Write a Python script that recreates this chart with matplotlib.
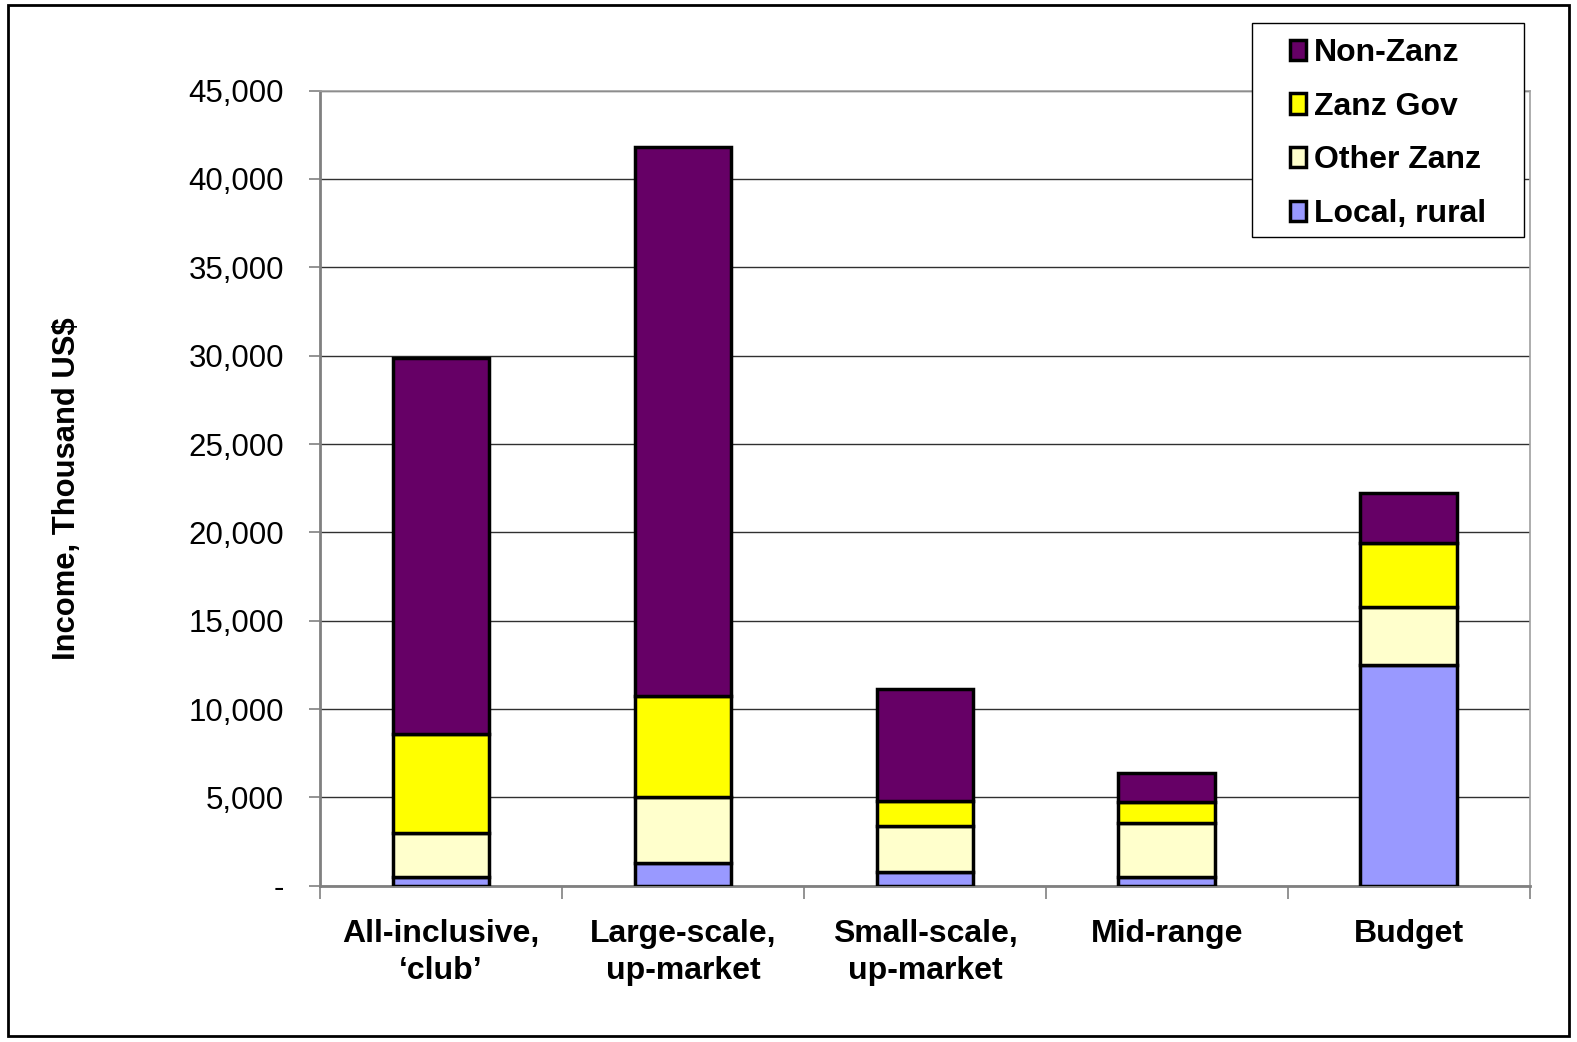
import numpy as np
import matplotlib.pyplot as plt
from matplotlib.patches import Rectangle
from matplotlib.ticker import FuncFormatter

plt.rcParams['font.family'] = ['Liberation Sans', 'DejaVu Sans']

categories = ['All-inclusive,\n\u2018club\u2019', 'Large-scale,\nup-market',
              'Small-scale,\nup-market', 'Mid-range', 'Budget']
local_rural = [480, 1270, 760, 480, 12500]
other_zanz = [2520, 3760, 2640, 3070, 3260]
zanz_gov = [5560, 5720, 1380, 1170, 3630]
non_zanz = [21290, 31050, 6380, 1640, 2830]

series = [('Local, rural', local_rural, '#9999ff'),
          ('Other Zanz', other_zanz, '#ffffcc'),
          ('Zanz Gov', zanz_gov, '#ffff00'),
          ('Non-Zanz', non_zanz, '#660066')]

fig = plt.figure(figsize=(15.77, 10.42), dpi=100)
ax = fig.add_axes([0.203, 0.150, 0.767, 0.763])

# outer chart border
fig.patches.append(Rectangle((0.005, 0.006), 0.99, 0.989, transform=fig.transFigure,
                             fill=False, edgecolor='black', linewidth=2))

x = np.arange(len(categories))
bottom = np.zeros(len(categories))
handles = []
for label, vals, color in series:
    h = ax.bar(x, vals, width=0.4, bottom=bottom, color=color,
               edgecolor='black', linewidth=2.5, label=label, zorder=3)
    handles.append(h)
    bottom += np.array(vals)

ax.set_xlim(-0.5, len(categories) - 0.5)
ax.set_ylim(0, 45000)
ax.set_yticks(np.arange(0, 45001, 5000))
ax.yaxis.set_major_formatter(FuncFormatter(lambda v, p: '-' if v == 0 else f'{int(v):,}'))
ax.grid(axis='y', color='#303030', linewidth=1, zorder=0)

ax.set_xticks(x)
ax.set_xticklabels(categories, fontsize=23, fontweight='bold', linespacing=1.3)
ax.set_xticks(np.arange(-0.5, len(categories)), minor=True)
ax.tick_params(axis='x', which='major', length=0, pad=24)
ax.tick_params(axis='x', which='minor', length=9, width=1.2, color='#808080')
ax.tick_params(axis='y', length=8, width=1.2, color='#808080', labelsize=22.5, pad=18)

for side in ['left', 'bottom']:
    ax.spines[side].set_color('#808080')
    ax.spines[side].set_linewidth(2)
for side in ['top', 'right']:
    ax.spines[side].set_color('#a0a0a0')
    ax.spines[side].set_linewidth(1.2)

ax.set_ylabel('Income, Thousand US$', fontsize=22.3, fontweight='bold')
ax.yaxis.set_label_coords(-0.197, 0.5)

# legend box drawn separately so it can be wider than its entries
fig.patches.append(Rectangle((1252 / 1577, 1 - 237 / 1042), 272 / 1577, 214 / 1042,
                             transform=fig.transFigure, facecolor='white',
                             edgecolor='black', linewidth=1, zorder=4))
leg = fig.legend(handles[::-1], [s[0] for s in series][::-1],
                 loc='upper left', bbox_to_anchor=(1290 / 1577, 1 - 38 / 1042),
                 prop={'size': 23, 'weight': 'bold'}, frameon=False,
                 handlelength=0.5, handleheight=0.6,
                 handletextpad=0.25, labelspacing=0.74, borderpad=0,
                 borderaxespad=0)
leg.set_zorder(5)

plt.savefig('out.png', dpi=100)
plt.close()
